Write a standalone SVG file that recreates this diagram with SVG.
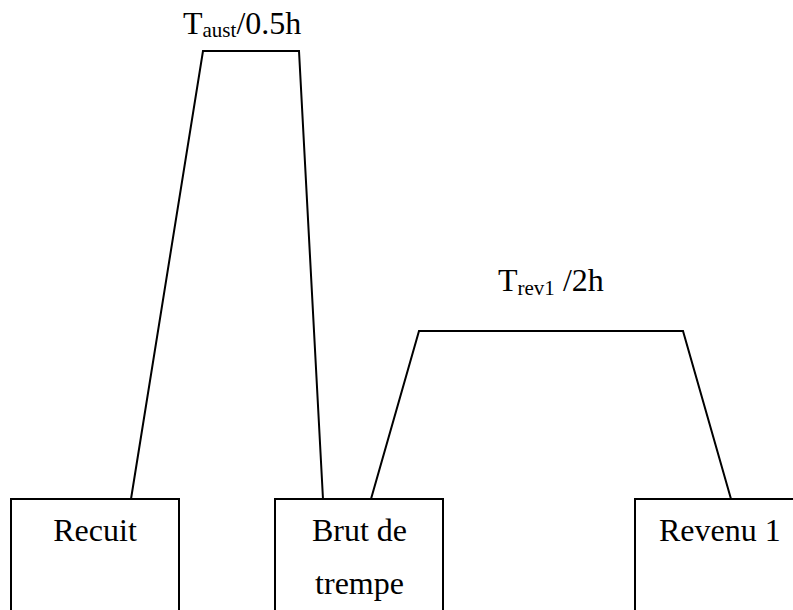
<svg xmlns="http://www.w3.org/2000/svg" width="793" height="610" viewBox="0 0 793 610">
<style>
.box{fill:#fff;stroke:#000;stroke-width:2}
.ln{fill:none;stroke:#000;stroke-width:2}
</style>
<rect width="793" height="610" fill="#fff"/>
<g id="connectors">
<polyline class="ln" points="131,499 203,51 299,51 323,499"/>
<polyline class="ln" points="371,499 419,331 683,331 731,499"/>
</g>
<g font-family="'Liberation Serif', 'Times New Roman', serif" font-size="32" fill="#000">
<g id="recuit">
<rect class="box" x="11" y="499" width="168" height="130"/>
<text x="95" y="541" text-anchor="middle">Recuit</text>
</g>
<g id="brut">
<rect class="box" x="275" y="499" width="168" height="130"/>
<text x="359.5" y="541" text-anchor="middle">Brut de</text>
<text x="359.5" y="594" text-anchor="middle">trempe</text>
</g>
<g id="revenu">
<rect class="box" x="635" y="499" width="168" height="130"/>
<text x="659" y="541">Revenu 1</text>
</g>
<g id="label-aust">
<text x="183" y="34">T<tspan font-size="21" dy="3">aust</tspan><tspan dy="-3">/0.5h</tspan></text>
</g>
<g id="label-rev">
<text x="498" y="291">T<tspan font-size="21" dy="4">rev1</tspan><tspan dy="-4"> /2h</tspan></text>
</g>
</g>
</svg>
